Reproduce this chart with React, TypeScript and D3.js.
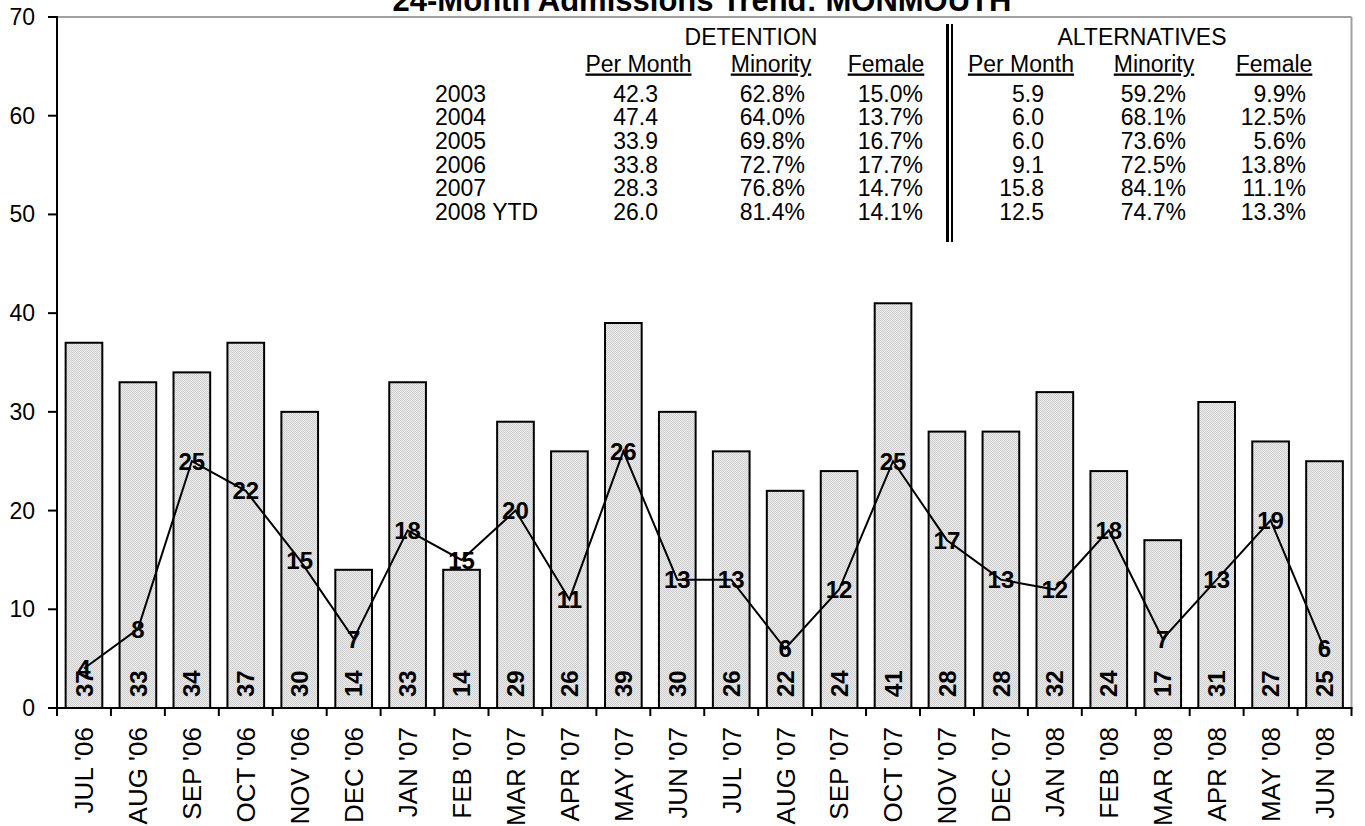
import React from "react";
import * as d3 from "d3";

const months = ["JUL '06","AUG '06","SEP '06","OCT '06","NOV '06","DEC '06","JAN '07","FEB '07","MAR '07","APR '07","MAY '07","JUN '07","JUL '07","AUG '07","SEP '07","OCT '07","NOV '07","DEC '07","JAN '08","FEB '08","MAR '08","APR '08","MAY '08","JUN '08"];
const detention = [37,33,34,37,30,14,33,14,29,26,39,30,26,22,24,41,28,28,32,24,17,31,27,25];
const alternatives = [4,8,25,22,15,7,18,15,20,11,26,13,13,6,12,25,17,13,12,18,7,13,19,6];
const yTicks = [0,10,20,30,40,50,60,70];

const years = ["2003","2004","2005","2006","2007","2008 YTD"];
const detPerMonth = ["42.3","47.4","33.9","33.8","28.3","26.0"];
const detMinority = ["62.8%","64.0%","69.8%","72.7%","76.8%","81.4%"];
const detFemale = ["15.0%","13.7%","16.7%","17.7%","14.7%","14.1%"];
const altPerMonth = ["5.9","6.0","6.0","9.1","15.8","12.5"];
const altMinority = ["59.2%","68.1%","73.6%","72.5%","84.1%","74.7%"];
const altFemale = ["9.9%","12.5%","5.6%","13.8%","11.1%","13.3%"];

const FONT = "'Liberation Sans', Arial, sans-serif";

export default function App() {
  const W = 1365, H = 826;
  const x0 = 57, x1 = 1351.5, yTop = 17, yBot = 708;
  const x = d3.scaleBand<string>().domain(months).range([x0, x1]).paddingInner(0.32).paddingOuter(0.16);
  const y = d3.scaleLinear().domain([0, 70]).range([yBot, yTop]);
  const step = x.step();
  const cx = (m: string) => (x(m) as number) + x.bandwidth() / 2;
  const line = d3.line<number>().x((_, i) => cx(months[i])).y((v) => y(v));

  const cols = [
    { head: "Per Month", hc: 638.5, vr: 658, vals: detPerMonth },
    { head: "Minority", hc: 771, vr: 805, vals: detMinority },
    { head: "Female", hc: 886, vr: 923, vals: detFemale },
    { head: "Per Month", hc: 1021, vr: 1044, vals: altPerMonth },
    { head: "Minority", hc: 1154, vr: 1186, vals: altMinority },
    { head: "Female", hc: 1274, vr: 1306, vals: altFemale },
  ];
  const rowY = (i: number) => 101.5 + i * 23.7;

  return (
    <svg width={W} height={H} style={{ position: "absolute", left: 0, top: 0, background: "#fff" }} fontFamily={FONT}>
      <defs>
        <pattern id="dots" width={2} height={2} patternUnits="userSpaceOnUse">
          <rect width={2} height={2} fill="#ececec" />
          <rect width={1} height={1} fill="#cfcfcf" />
          <rect x={1} y={1} width={1} height={1} fill="#cfcfcf" />
        </pattern>
      </defs>
      {/* title */}
      <text x={702} y={10.5} textAnchor="middle" fontWeight="bold" fontSize={31}>24-Month Admissions Trend: MONMOUTH</text>
      {/* plot border (gray) */}
      <line x1={x0} x2={x1} y1={yTop} y2={yTop} stroke="#a0a0a0" strokeWidth={2} />
      <line x1={x1} x2={x1} y1={yTop} y2={yBot} stroke="#a0a0a0" strokeWidth={2} />
      {/* bars */}
      {detention.map((v, i) => (
        <rect key={"b" + i} x={x(months[i])} y={y(v)} width={x.bandwidth()} height={yBot - y(v)} fill="url(#dots)" stroke="#000" strokeWidth={2} />
      ))}
      {/* axes */}
      <line x1={x0} x2={x0} y1={yTop - 1} y2={yBot} stroke="#000" strokeWidth={2} />
      <line x1={x0 - 9} x2={x1 + 1} y1={yBot} y2={yBot} stroke="#000" strokeWidth={2} />
      {yTicks.map((t) => (
        <g key={"yt" + t}>
          <line x1={x0 - 9} x2={x0} y1={y(t)} y2={y(t)} stroke="#000" strokeWidth={2} />
          <text x={35} y={y(t)} dy="0.35em" textAnchor="end" fontSize={23}>{t}</text>
        </g>
      ))}
      {d3.range(months.length + 1).map((i) => (
        <line key={"xt" + i} x1={x0 + i * step} x2={x0 + i * step} y1={yBot} y2={yBot + 8} stroke="#000" strokeWidth={2} />
      ))}
      {months.map((m) => (
        <text key={"xl" + m} transform={`translate(${cx(m)},727) rotate(-90)`} dy="0.36em" textAnchor="end" fontSize={26}>{m}</text>
      ))}
      {/* bar value labels */}
      {detention.map((v, i) => (
        <text key={"bl" + i} transform={`translate(${cx(months[i])},697) rotate(-90)`} dy="0.36em" textAnchor="start" fontSize={24} fontWeight="bold">{v}</text>
      ))}
      {/* line */}
      <path d={line(alternatives) as string} fill="none" stroke="#000" strokeWidth={2} />
      {alternatives.map((v, i) => (
        <text key={"ll" + i} x={cx(months[i])} y={y(v)} dy="0.36em" textAnchor="middle" fontSize={24} fontWeight="bold">{v}</text>
      ))}
      {/* table */}
      <text x={751} y={45} textAnchor="middle" fontSize={23}>DETENTION</text>
      <text x={1142} y={45} textAnchor="middle" fontSize={23}>ALTERNATIVES</text>
      {cols.map((c, ci) => (
        <g key={"c" + ci}>
          <text x={c.hc} y={71.5} textAnchor="middle" fontSize={23} textDecoration="underline">{c.head}</text>
          {c.vals.map((v, i) => (
            <text key={i} x={c.vr} y={rowY(i)} textAnchor="end" fontSize={23}>{v}</text>
          ))}
        </g>
      ))}
      {years.map((yr, i) => (
        <text key={"yr" + i} x={435} y={rowY(i)} fontSize={23}>{yr}</text>
      ))}
      <line x1={947.5} x2={947.5} y1={24} y2={242} stroke="#000" strokeWidth={3} />
      <line x1={952} x2={952} y1={24} y2={242} stroke="#000" strokeWidth={2} />
    </svg>
  );
}
